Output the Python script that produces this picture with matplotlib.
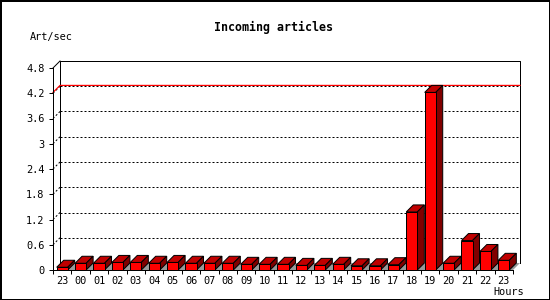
import matplotlib
matplotlib.use('Agg')
import matplotlib.pyplot as plt
from matplotlib.patches import Polygon

# Hourly values (articles per second)
hours = ['23', '00', '01', '02', '03', '04', '05', '06', '07', '08', '09', '10',
         '11', '12', '13', '14', '15', '16', '17', '18', '19', '20', '21', '22', '23']
values = [0.065, 0.16, 0.16, 0.18, 0.18, 0.16, 0.18, 0.16, 0.16, 0.16, 0.135, 0.135,
          0.135, 0.11, 0.11, 0.135, 0.10, 0.10, 0.126, 1.38, 4.22, 0.16, 0.70, 0.44, 0.23]
yticks = [0, 0.6, 1.2, 1.8, 2.4, 3, 3.6, 4.2, 4.8]

W, H = 550, 300
fig = plt.figure(figsize=(W / 100, H / 100), dpi=100)
fig.patch.set_facecolor('white')
fig.patch.set_edgecolor('black')
fig.patch.set_linewidth(2)

# front plane of the 3D box
ax_l, ax_b, ax_w, ax_h = 53, 30, 460, 202
ax = fig.add_axes([ax_l / W, ax_b / H, ax_w / W, ax_h / H])
n = len(values)
ax.set_xlim(-0.5, n - 0.5)
ax.set_ylim(0, 4.8)

# depth of the box, 7 px, in data units
depth = 7
ddx = depth / (ax_w / n)
ddy = depth / (ax_h / 4.8)

lw = 0.72
for s in ['top', 'right']:
    ax.spines[s].set_visible(False)
ax.spines['left'].set_linewidth(lw)
ax.spines['bottom'].set_linewidth(lw)

x0, x1 = -0.5, n - 0.5
# back plane outline
ax.plot([x0 + ddx, x0 + ddx, x1 + ddx, x1 + ddx], [ddy, 4.8 + ddy, 4.8 + ddy, ddy],
        color='black', lw=lw, clip_on=False, zorder=1)
ax.plot([x0, x0 + ddx], [4.8, 4.8 + ddy], color='black', lw=lw, clip_on=False, zorder=1)

# dotted grid on back wall
for v in yticks[1:-1]:
    ax.plot([x0 + ddx, x1 + ddx], [v + ddy, v + ddy], color='black', lw=lw,
            linestyle=(0, (2, 2)), clip_on=False, zorder=1)
    ax.plot([x0, x0 + ddx], [v, v + ddy], color='black', lw=lw,
            linestyle=(0, (2, 2)), clip_on=False, zorder=1)

# max line
vmax = max(values)
ax.plot([x0, x0 + ddx, x1 + ddx], [vmax, vmax + ddy, vmax + ddy], color='red', lw=lw * 1.2,
        clip_on=False, zorder=2)

# floor
bw = 0.6
fx = -bw / 2
ax.add_patch(Polygon([(fx, 0), (x1, 0), (x1 + ddx, ddy), (fx + ddx, ddy)],
                     closed=True, facecolor='#999999', edgecolor='none',
                     clip_on=False, zorder=2))

# bars
ax.bar(range(n), values, width=bw, color='#ff0000', edgecolor='black', linewidth=lw,
       zorder=4, clip_on=False)
for i, v in enumerate(values):
    l, r = i - bw / 2, i + bw / 2
    ax.add_patch(Polygon([(l, v), (r, v), (r + ddx, v + ddy), (l + ddx, v + ddy)],
                         closed=True, facecolor='#c00000', edgecolor='black',
                         linewidth=lw, clip_on=False, zorder=3))
    ax.add_patch(Polygon([(r, 0), (r + ddx, ddy), (r + ddx, v + ddy), (r, v)],
                         closed=True, facecolor='#800000', edgecolor='black',
                         linewidth=lw, clip_on=False, zorder=3))

font = 'DejaVu Sans Mono'
ax.set_yticks(yticks)
ax.set_yticklabels(['%g' % t for t in yticks], family=font, fontsize=7.4)
ax.tick_params(axis='y', direction='out', length=3, width=lw, pad=3)

ax.set_xticks(range(n))
ax.set_xticklabels(hours, family=font, fontsize=7.4)
ax.set_xticks([i - 0.5 for i in range(n + 1)], minor=True)
ax.tick_params(axis='x', which='major', length=0, pad=4)
ax.tick_params(axis='x', which='minor', direction='out', length=3, width=lw)

fig.text(274 / W, 1 - 27 / H, 'Incoming articles', ha='center', va='center',
         family=font, fontsize=8.4, fontweight='bold')
fig.text(30 / W, 1 - 37 / H, 'Art/sec', ha='left', va='center', family=font, fontsize=7.4)
fig.text(493 / W, 1 - 292 / H, 'Hours', ha='left', va='center', family=font, fontsize=7.4)

fig.savefig('out.png', dpi=100, facecolor=fig.get_facecolor(), edgecolor=fig.get_edgecolor())
